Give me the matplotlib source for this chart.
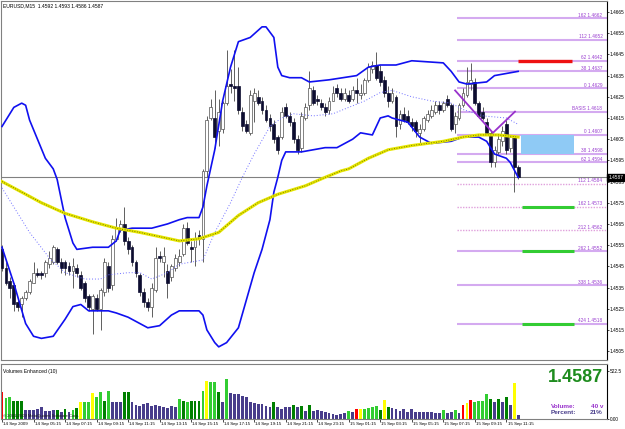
import matplotlib
matplotlib.use("Agg")
import matplotlib.pyplot as plt
import matplotlib.transforms as mtransforms
from matplotlib.patches import Rectangle

plt.rcParams["font.family"] = ["Liberation Sans", "DejaVu Sans"]

W, H = 625, 429

symbol = "EURUSD,M15"

# OHLC of the 132 visible M15 bars (14 Sep 03:15 .. 15 Sep 12:00)
opens = [
    1.4553, 1.4544, 1.4538, 1.4536, 1.4528, 1.4527, 1.4530, 1.4533, 1.4537, 1.4542,
    1.4542, 1.4542, 1.4546, 1.4547, 1.4553, 1.4547, 1.4547, 1.4545, 1.4543, 1.4544,
    1.4541, 1.4537, 1.4531, 1.4525, 1.4530, 1.4525, 1.4533, 1.4545, 1.4536, 1.4558,
    1.4562, 1.4565, 1.4557, 1.4554, 1.4547, 1.4541, 1.4533, 1.4528, 1.4526, 1.4534,
    1.4550, 1.4547, 1.4543, 1.4540, 1.4544, 1.4547, 1.4551, 1.4563, 1.4554, 1.4554,
    1.4560, 1.4558, 1.4590, 1.4615, 1.4615, 1.4609, 1.4610, 1.4622, 1.4631, 1.4630,
    1.4630, 1.4618, 1.4612, 1.4608, 1.4623, 1.4625, 1.4623, 1.4619, 1.4615, 1.4612,
    1.4606, 1.4606, 1.4620, 1.4616, 1.4613, 1.4605, 1.4601, 1.4615, 1.4621, 1.4628,
    1.4624, 1.4622, 1.4620, 1.4619, 1.4623, 1.4629, 1.4627, 1.4624, 1.4626, 1.4624,
    1.4628, 1.4626, 1.4627, 1.4633, 1.4638, 1.4640, 1.4637, 1.4633, 1.4627, 1.4623,
    1.4625, 1.4612, 1.4617, 1.4616, 1.4613, 1.4613, 1.4608, 1.4610, 1.4614, 1.4616,
    1.4618, 1.4621, 1.4619, 1.4624, 1.4621, 1.4612, 1.4615, 1.4621, 1.4626, 1.4631,
    1.4632, 1.4622, 1.4618, 1.4613, 1.4608, 1.4594, 1.4599, 1.4604, 1.4612, 1.4601,
    1.4606, 1.4592,
]
highs = [
    1.4555, 1.4547, 1.4540, 1.4537, 1.4529, 1.4531, 1.4534, 1.4539, 1.4547, 1.4544,
    1.4543, 1.4548, 1.4552, 1.4555, 1.4554, 1.4549, 1.4548, 1.4547, 1.4549, 1.4546,
    1.4543, 1.4538, 1.4532, 1.4532, 1.4532, 1.4535, 1.4549, 1.4547, 1.4560, 1.4568,
    1.4567, 1.4573, 1.4559, 1.4555, 1.4548, 1.4542, 1.4535, 1.4530, 1.4537, 1.4554,
    1.4552, 1.4554, 1.4546, 1.4546, 1.4551, 1.4553, 1.4565, 1.4566, 1.4557, 1.4561,
    1.4562, 1.4591, 1.4616, 1.4624, 1.4628, 1.4624, 1.4623, 1.4647, 1.4638, 1.4647,
    1.4639, 1.4620, 1.4614, 1.4628, 1.4629, 1.4628, 1.4625, 1.4621, 1.4617, 1.4614,
    1.4607, 1.4620, 1.4622, 1.4618, 1.4615, 1.4607, 1.4618, 1.4622, 1.4637, 1.4630,
    1.4626, 1.4624, 1.4622, 1.4625, 1.4630, 1.4631, 1.4629, 1.4629, 1.4628, 1.4630,
    1.4634, 1.4631, 1.4634, 1.4641, 1.4642, 1.4646, 1.4640, 1.4635, 1.4630, 1.4629,
    1.4626, 1.4619, 1.4620, 1.4619, 1.4615, 1.4614, 1.4612, 1.4616, 1.4619, 1.4621,
    1.4623, 1.4623, 1.4623, 1.4626, 1.4622, 1.4618, 1.4622, 1.4629, 1.4639, 1.4641,
    1.4634, 1.4623, 1.4620, 1.4615, 1.4609, 1.4602, 1.4607, 1.4611, 1.4614, 1.4607,
    1.4607, 1.4593,
]
lows = [
    1.4543, 1.4536, 1.4530, 1.4524, 1.4524, 1.4521, 1.4529, 1.4532, 1.4537, 1.4540,
    1.4539, 1.4540, 1.4544, 1.4546, 1.4546, 1.4542, 1.4541, 1.4541, 1.4535, 1.4540,
    1.4534, 1.4528, 1.4524, 1.4513, 1.4524, 1.4515, 1.4531, 1.4533, 1.4534, 1.4557,
    1.4561, 1.4555, 1.4551, 1.4545, 1.4540, 1.4531, 1.4526, 1.4524, 1.4521, 1.4533,
    1.4547, 1.4540, 1.4530, 1.4538, 1.4543, 1.4545, 1.4550, 1.4555, 1.4547, 1.4545,
    1.4555, 1.4547, 1.4587, 1.4614, 1.4601, 1.4602, 1.4608, 1.4621, 1.4627, 1.4623,
    1.4617, 1.4609, 1.4608, 1.4607, 1.4613, 1.4621, 1.4617, 1.4613, 1.4609, 1.4603,
    1.4598, 1.4605, 1.4615, 1.4611, 1.4603, 1.4598, 1.4599, 1.4614, 1.4619, 1.4621,
    1.4621, 1.4619, 1.4616, 1.4617, 1.4623, 1.4625, 1.4623, 1.4623, 1.4622, 1.4623,
    1.4622, 1.4624, 1.4626, 1.4632, 1.4636, 1.4633, 1.4630, 1.4625, 1.4620, 1.4622,
    1.4606, 1.4610, 1.4613, 1.4612, 1.4609, 1.4606, 1.4603, 1.4609, 1.4613, 1.4615,
    1.4617, 1.4617, 1.4618, 1.4620, 1.4609, 1.4608, 1.4614, 1.4620, 1.4625, 1.4628,
    1.4621, 1.4615, 1.4614, 1.4607, 1.4592, 1.4592, 1.4598, 1.4602, 1.4598, 1.4599,
    1.4580, 1.4586,
]
closes = [
    1.4544, 1.4537, 1.4535, 1.4527, 1.4526, 1.4530, 1.4533, 1.4538, 1.4542, 1.4541,
    1.4541, 1.4547, 1.4549, 1.4554, 1.4547, 1.4544, 1.4544, 1.4543, 1.4545, 1.4542,
    1.4535, 1.4530, 1.4526, 1.4531, 1.4525, 1.4534, 1.4547, 1.4535, 1.4558, 1.4563,
    1.4565, 1.4557, 1.4553, 1.4547, 1.4542, 1.4533, 1.4528, 1.4526, 1.4535, 1.4549,
    1.4549, 1.4550, 1.4537, 1.4545, 1.4549, 1.4550, 1.4563, 1.4556, 1.4553, 1.4558,
    1.4558, 1.4590, 1.4614, 1.4620, 1.4606, 1.4618, 1.4622, 1.4630, 1.4630, 1.4629,
    1.4619, 1.4611, 1.4609, 1.4626, 1.4627, 1.4622, 1.4619, 1.4614, 1.4611, 1.4605,
    1.4600, 1.4618, 1.4616, 1.4613, 1.4605, 1.4600, 1.4616, 1.4620, 1.4629, 1.4622,
    1.4623, 1.4620, 1.4618, 1.4623, 1.4627, 1.4627, 1.4624, 1.4627, 1.4623, 1.4628,
    1.4627, 1.4627, 1.4633, 1.4639, 1.4640, 1.4634, 1.4632, 1.4627, 1.4623, 1.4627,
    1.4611, 1.4617, 1.4614, 1.4613, 1.4611, 1.4609, 1.4610, 1.4615, 1.4617, 1.4619,
    1.4621, 1.4619, 1.4622, 1.4621, 1.4610, 1.4616, 1.4621, 1.4627, 1.4632, 1.4633,
    1.4622, 1.4616, 1.4615, 1.4608, 1.4594, 1.4600, 1.4605, 1.4609, 1.4600, 1.4606,
    1.4592, 1.4587,
]

# tick volume and the colour class the indicator gives each bar
volumes = [
    297, 228, 235, 199, 199, 199, 98, 98, 98, 109,
    127, 91, 83, 98, 98, 80, 109, 80, 98, 116,
    181, 181, 188, 279, 235, 290, 199, 308, 181, 188,
    188, 290, 290, 188, 156, 145, 163, 170, 145, 156,
    145, 127, 116, 145, 127, 218, 199, 181, 199, 199,
    199, 308, 417, 399, 399, 290, 188, 435, 283, 272,
    272, 250, 235, 181, 170, 163, 163, 145, 127, 181,
    127, 109, 127, 127, 150, 127, 145, 91, 156, 83,
    98, 91, 72, 61, 54, 47, 54, 61, 83, 72,
    109, 109, 109, 116, 127, 145, 98, 207, 127, 116,
    109, 91, 109, 72, 109, 72, 72, 80, 72, 80,
    61, 61, 98, 61, 72, 98, 61, 156, 170, 207,
    188, 199, 199, 272, 218, 181, 218, 181, 235, 156,
    387, 40,
]
vol_class = list(
    "rllgggssss"
    "ssssgsgslg"
    "yllyllglss"
    "sggsssssss"
    "ssssslglgg"
    "glyllgslss"
    "sssssssssg"
    "ssssgsgsgs"
    "ssssssssls"
    "ryllllgygs"
    "ssssssssss"
    "sslsslsryr"
    "llllgsgsgs"
    "ys"
)

price_ticks = [1.4665, 1.4655, 1.4645, 1.4635, 1.4625, 1.4615, 1.4605, 1.4595,
               1.4585, 1.4575, 1.4565, 1.4555, 1.4545, 1.4535, 1.4525, 1.4515, 1.4505]

time_labels = ["14 Sep 2009", "14 Sep 05:15", "14 Sep 07:15", "14 Sep 09:15",
               "14 Sep 11:15", "14 Sep 13:15", "14 Sep 15:15", "14 Sep 17:15",
               "14 Sep 19:15", "14 Sep 21:15", "14 Sep 23:15", "15 Sep 01:15",
               "15 Sep 03:15", "15 Sep 05:15", "15 Sep 07:15", "15 Sep 09:15",
               "15 Sep 11:15"]
label_bars = [0, 8, 16, 24, 32, 40, 48, 56, 64, 72, 80, 88, 96, 104, 112, 120, 128]

# Bollinger bands and moving average, read at their turning points
upper_bars = [0, 3, 5, 6, 7, 9, 11, 13, 14, 16, 18, 19, 23, 27, 29, 30, 33, 38, 42, 45,
              47, 50, 51, 52, 54, 56, 58, 60, 63, 66, 67, 69, 70, 71, 73, 76, 78, 83, 90, 93,
              96, 100, 104, 112, 114, 116, 118, 123, 125, 128, 131]
upper_vals = [1.4611, 1.4620, 1.4622, 1.4621, 1.4614, 1.4605, 1.4596, 1.4591, 1.4586, 1.4568,
              1.4556, 1.4553, 1.4554, 1.4554, 1.4557, 1.4562, 1.4563, 1.4563, 1.4565, 1.4567,
              1.4568, 1.4568, 1.4573, 1.4583, 1.4600, 1.4623, 1.4639, 1.4651, 1.4653, 1.4658,
              1.4658, 1.4653, 1.4639, 1.4635, 1.4634, 1.4634, 1.4632, 1.4633, 1.4635, 1.4639,
              1.4640, 1.4640, 1.4642, 1.4641, 1.4637, 1.4632, 1.4631, 1.4632, 1.4635, 1.4636,
              1.4637]
lower_bars = [0, 3, 6, 8, 10, 13, 16, 18, 20, 22, 27, 29, 32, 37, 40, 43, 45, 50, 51, 52,
              54, 55, 57, 60, 62, 64, 66, 68, 69, 70, 71, 72, 76, 79, 82, 85, 89, 91, 94, 96,
              98, 99, 103, 106, 109, 114, 117, 121, 123, 125, 128, 129, 131]
lower_vals = [1.4554, 1.4537, 1.4518, 1.4512, 1.4511, 1.4512, 1.4520, 1.4526, 1.4527, 1.4524,
              1.4524, 1.4523, 1.4521, 1.4516, 1.4517, 1.4522, 1.4524, 1.4524, 1.4522, 1.4515,
              1.4509, 1.4507, 1.4509, 1.4516, 1.4529, 1.4542, 1.4553, 1.4567, 1.4580, 1.4587,
              1.4595, 1.4599, 1.4599, 1.4600, 1.4601, 1.4601, 1.4605, 1.4608, 1.4607, 1.4615,
              1.4616, 1.4615, 1.4613, 1.4606, 1.4603, 1.4604, 1.4606, 1.4606, 1.4604, 1.4598,
              1.4596, 1.4594, 1.4587]
mid_bars = [0, 7, 12, 16, 21, 25, 27, 32, 35, 38, 42, 45, 48, 51, 54, 58, 61, 64, 68, 71,
            74, 79, 84, 88, 92, 96, 99, 104, 109, 114, 117, 122, 128, 131]
mid_vals = [1.4582, 1.4561, 1.4549, 1.4542, 1.4539, 1.4539, 1.4541, 1.4542, 1.4542, 1.4539,
            1.4542, 1.4546, 1.4547, 1.4548, 1.4561, 1.4575, 1.4587, 1.4598, 1.4611, 1.4615,
            1.4617, 1.4616, 1.4617, 1.4620, 1.4623, 1.4627, 1.4628, 1.4625, 1.4623, 1.4622,
            1.4619, 1.4616, 1.4615, 1.4612]
ma_bars = [0, 5, 10, 16, 23, 29, 35, 40, 45, 50, 55, 60, 65, 70, 77, 82, 86, 88, 93, 98,
           104, 112, 117, 121, 126, 131]
ma_vals = [1.4585, 1.4580, 1.4575, 1.4570, 1.4566, 1.4563, 1.4561, 1.4559, 1.4557, 1.4558,
           1.4561, 1.4569, 1.4575, 1.4579, 1.4583, 1.4587, 1.4590, 1.4591, 1.4596, 1.4600,
           1.4602, 1.4604, 1.4606, 1.4607, 1.4607, 1.4606]

# Fibonacci pivot levels drawn on the right
fib_names = ["162", "112", "62", "38", "0", "BASIS", "0", "38", "62",
             "112", "162", "212", "262", "338", "424"]
fib_prices = [1.4662, 1.4652, 1.4642, 1.4637, 1.4629, 1.4618, 1.4607, 1.4598, 1.4594,
              1.4584, 1.4573, 1.4562, 1.4552, 1.4536, 1.4518]
fib_dotted = {"1.4584", "1.4573", "1.4562"}

target_red = [1.4642]
target_green = [1.4573, 1.4552, 1.4518]
zone_blue = (1.4598, 1.4607)

v_bars = [115, 124.6, 130.2]
v_vals = [1.4628, 1.4608, 1.4618]

volume_now = volumes[-1]
percent_now = 21

# ---------------------------------------------------------------- layout
XMIN, XMAX = -0.254, 153.55
PMIN, PMAX = 1.45008, 1.46702


def fx(px):
    return px / W


def fy(py):
    return 1 - py / H


fig = plt.figure(figsize=(W / 100, H / 100), dpi=100)
fig.patch.set_facecolor("white")
ax = fig.add_axes([fx(1), fy(360), fx(607) - fx(1), fy(1) - fy(360)])
axv = fig.add_axes([fx(1), fy(419), fx(607) - fx(1), fy(364) - fy(419)])

n = len(opens)

# fib levels
fib_start = 115.5
for name, p in zip(fib_names, fib_prices):
    key = f"{p:.4f}"
    if key in fib_dotted:
        ax.hlines(p, fib_start, XMAX, colors="#e0a0dc", lw=1.0,
                  linestyles=(0, (1, 1)), zorder=1)
    else:
        ax.hlines(p, fib_start, XMAX, colors="#d4aaf0", lw=1.5, zorder=1)
    ax.text(152.4, p + 0.00003, f"{name} {key}", ha="right", va="bottom",
            fontsize=3.4, color="#9a3fd0", zorder=6)

# bid line
ax.axhline(closes[-1], color="#808080", lw=0.8, zorder=1)

# candles
for i in range(n):
    o, h, l, c = opens[i], highs[i], lows[i], closes[i]
    ax.vlines(i, l, h, color="#454545", lw=0.6, zorder=2)
    bull = c > o
    bottom = min(o, c)
    height = max(abs(c - o), 0.00004)
    if bull:
        fc, ec = "white", "#505050"
    else:
        fc, ec = "#0d0d30", "#0d0d30"
    ax.add_patch(Rectangle((i - 0.36, bottom), 0.72, height, facecolor=fc,
                           edgecolor=ec, lw=0.5, zorder=3))

# indicators
ax.plot(upper_bars, upper_vals, color="#1010f0", lw=1.2, zorder=4)
ax.plot(lower_bars, lower_vals, color="#1010f0", lw=1.2, zorder=4)
ax.plot(mid_bars, mid_vals, color="#7070ff", lw=0.7, ls=(0, (1, 2)), zorder=4)
ax.plot(ma_bars, ma_vals, color="#e6e600", lw=2.2, zorder=4)
ax.plot(ma_bars, ma_vals, color="#5a5a00", lw=0.6, ls=(0, (1, 2)), zorder=4)

# objects
ax.plot(v_bars, v_vals, color="#9932cc", lw=1.3, zorder=5)
ax.add_patch(Rectangle((131.7, zone_blue[0]), 13.5, zone_blue[1] - zone_blue[0],
                       facecolor="#8fcaf5", edgecolor="none", zorder=5))
for p in target_red:
    ax.hlines(p, 131.0, 144.7, colors="#ee1111", lw=2.4, zorder=5)
for p in target_green:
    ax.hlines(p, 132.0, 145.2, colors="#33cc33", lw=2.2, zorder=5)

ax.set_xlim(XMIN, XMAX)
ax.set_ylim(PMIN, PMAX)
ax.set_xticks([])
ax.yaxis.tick_right()
ax.set_yticks(price_ticks)
ax.set_yticklabels([f"{p:.4f}" for p in price_ticks])
ax.tick_params(axis="y", length=1.5, width=0.5, pad=0.6, labelsize=3.4)
for side in ("left", "top", "bottom"):
    ax.spines[side].set_color("#808080")
ax.spines["right"].set_color("black")
for s in ax.spines.values():
    s.set_linewidth(0.8)

ax.annotate(f"{closes[-1]:.4f}", xy=(1.0, closes[-1]),
            xycoords=mtransforms.blended_transform_factory(ax.transAxes, ax.transData),
            xytext=(0.8, 0), textcoords="offset points", ha="left", va="center",
            fontsize=3.4, color="white",
            bbox=dict(boxstyle="square,pad=0.15", fc="black", ec="black"), zorder=7,
            annotation_clip=False)

fig.text(fx(3), fy(6), f"{symbol}  {opens[-1]:.4f} {highs[-1]:.4f} "
         f"{lows[-1]:.4f} {closes[-1]:.4f}", fontsize=3.6, va="center")

# volume panel
palette = {"s": "#483d8b", "l": "#32cd32", "g": "#008000", "y": "#ffff00", "r": "#ff0000"}
axv.bar(range(n), volumes, width=0.72, color=[palette[k] for k in vol_class], zorder=2)
axv.set_xlim(XMIN, XMAX)
axv.set_ylim(0, 598)
axv.yaxis.tick_right()
axv.set_yticks([0, 522.5])
axv.set_yticklabels(["0.00", "522.5"])
axv.tick_params(axis="y", length=1.5, width=0.5, pad=0.6, labelsize=3.4)
axv.set_xticks(label_bars)
axv.tick_params(axis="x", length=2, width=0.5, labelbottom=False)
for side in ("left", "top", "bottom"):
    axv.spines[side].set_color("#808080")
axv.spines["right"].set_color("black")
for s in axv.spines.values():
    s.set_linewidth(0.8)

tb = mtransforms.blended_transform_factory(axv.transData, axv.transAxes)
for b, lab in zip(label_bars, time_labels):
    axv.text(b + 0.3, -0.05, lab, transform=tb, fontsize=3.2, ha="left", va="top")

axv.text(0.3, 12, "\u00a9 2001-2009 MetaQuotes Software Corp.", fontsize=3.0,
         color="#1a1a1a", va="bottom", zorder=3)
fig.text(fx(3), fy(372), "Volumes Enhanced (10)", fontsize=3.6, va="center")

fig.text(fx(603), fy(378), f"{closes[-1]:.4f}", ha="right", va="center",
         fontsize=13, fontweight="bold", color="#1e8c1e")
fig.text(fx(551), fy(406), "Volume:", fontsize=4.6, fontweight="bold",
         color="#9933cc", va="center")
fig.text(fx(603), fy(406), f"{volume_now} v", fontsize=4.6, fontweight="bold",
         color="#9933cc", va="center", ha="right")
fig.text(fx(551), fy(413), "Percent:", fontsize=4.6, fontweight="bold",
         color="#483d8b", va="center")
fig.text(fx(603), fy(413), f"{percent_now}%", fontsize=4.6, fontweight="bold",
         color="#483d8b", va="center", ha="right")

fig.savefig("out.png", dpi=100, facecolor="white")
